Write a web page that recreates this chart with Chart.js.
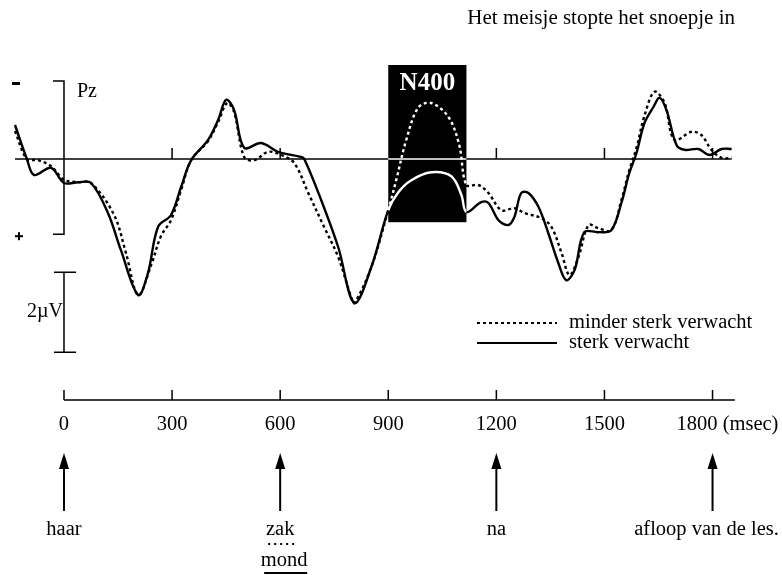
<!DOCTYPE html>
<html>
<head>
<meta charset="utf-8">
<script src="https://cdn.jsdelivr.net/npm/chart.js@4.4.1/dist/chart.umd.min.js"></script>
<style>
  html, body { margin: 0; padding: 0; background: #fff; }
  canvas { display: block; }
</style>
</head>
<body>
<canvas id="erp" width="782" height="575"></canvas>
<script>
// Tijd (ms) en amplitude (µV, negatief = omhoog)
const tijdSterk = [-136, -103, -83, -36, 0, 39, 75, 122, 158, 206, 233, 261, 297, 325, 353, 400, 428, 450, 472, 500, 547, 594, 658, 667, 714, 761, 806, 853, 900, 928, 964, 1019, 1075, 1103, 1117, 1158, 1178, 1206, 1233, 1250, 1269, 1289, 1317, 1344, 1372, 1394, 1417, 1444, 1483, 1519, 1547, 1569, 1589, 1611, 1636, 1653, 1672, 1700, 1722, 1761, 1792, 1825, 1853];
const sterkVerwacht = [-0.85, 0, 0.4, 0.22, 0.6, 0.58, 0.6, 1.35, 2.28, 3.4, 2.85, 1.7, 1.4, 0.7, 0.03, -0.48, -0.98, -1.48, -1.23, -0.28, -0.4, -0.18, -0.05, 0, 1.03, 2.2, 3.6, 2.7, 1.28, 0.83, 0.53, 0.33, 0.43, 0.9, 1.33, 1.08, 1.1, 1.53, 1.65, 1.45, 0.85, 0.85, 1.2, 1.85, 2.6, 3.03, 2.78, 1.83, 1.83, 1.78, 1.1, 0.35, -0.15, -0.9, -1.3, -1.53, -1.23, -0.35, -0.23, -0.25, -0.1, -0.25, -0.25];

const tijdMinder = [-136, -103, -72, -36, 0, 39, 75, 139, 172, 206, 242, 269, 297, 325, 353, 400, 428, 453, 472, 500, 528, 567, 603, 639, 678, 722, 761, 797, 806, 853, 900, 922, 950, 983, 1019, 1067, 1097, 1117, 1150, 1178, 1214, 1250, 1278, 1325, 1353, 1381, 1403, 1428, 1456, 1483, 1519, 1547, 1569, 1589, 1611, 1639, 1667, 1694, 1742, 1769, 1797, 1825, 1853];
const minderVerwacht = [-0.7, 0, 0.03, 0.18, 0.52, 0.58, 0.6, 1.4, 2.35, 3.4, 2.65, 1.93, 1.53, 0.78, 0.03, -0.45, -0.93, -1.4, -1.18, -0.05, 0.03, -0.18, -0.1, 0.1, 0.85, 1.7, 2.45, 3.45, 3.6, 2.7, 1.28, 0.53, -0.48, -1.28, -1.4, -1.05, -0.35, 0.65, 0.65, 0.85, 1.28, 1.23, 1.35, 1.48, 1.7, 2.35, 2.9, 2.45, 1.65, 1.73, 1.78, 1.03, 0.28, -0.28, -1.08, -1.68, -1.4, -0.48, -0.68, -0.6, -0.23, -0.03, -0.03];

const nulLijn = [-136, 900, 1117, 1853];
const n400Venster = [900, 1117];
const n400Hoogte = [-2.35, 1.58];
const klemBereik = [-1.95, 1.88];
const schaalBalk = [2.83, 4.83];
const lijnStreepjes = [300, 600, 1200, 1500, 1800];

const asTijden = [0, 300, 600, 900, 1200, 1500, 1800];
const asLabels = ['0', '300', '600', '900', '1200', '1500', '1800 (msec)'];
const woordTijden = [0, 600, 1200, 1800];
const woorden = ['haar', 'zak', 'na', 'afloop van de les.'];

const serif = '"Liberation Serif", "DejaVu Serif", serif';

function punten(tijden, waarden) {
  return tijden.map((t, i) => ({ x: t, y: waarden[i] }));
}

function inVenster(seg) {
  return seg.p0.parsed.x >= n400Venster[0] && seg.p1.parsed.x <= n400Venster[1];
}

const versiering = {
  id: 'versiering',
  beforeDatasetsDraw(chart) {
    const { ctx, scales: { x, y } } = chart;
    ctx.save();
    // zwart N400-vak
    const bx0 = x.getPixelForValue(n400Venster[0]);
    const bx1 = x.getPixelForValue(n400Venster[1]);
    const by0 = y.getPixelForValue(n400Hoogte[0]);
    const by1 = y.getPixelForValue(n400Hoogte[1]);
    ctx.fillStyle = '#000';
    ctx.fillRect(bx0, by0, bx1 - bx0, by1 - by0);
    ctx.fillStyle = '#fff';
    ctx.font = 'bold 25px ' + serif;
    ctx.textAlign = 'center';
    ctx.textBaseline = 'middle';
    ctx.fillText('N400', (bx0 + bx1) / 2, by0 + 19);

    // streepjes op de nullijn
    ctx.strokeStyle = '#000';
    ctx.lineWidth = 1.5;
    const y0 = y.getPixelForValue(0);
    lijnStreepjes.forEach(t => {
      const px = x.getPixelForValue(t);
      ctx.beginPath();
      ctx.moveTo(px, y0);
      ctx.lineTo(px, y0 - 11);
      ctx.stroke();
    });
    ctx.restore();
  },
  afterDatasetsDraw(chart) {
    const { ctx, scales: { x, y } } = chart;
    ctx.save();
    ctx.strokeStyle = '#000';
    ctx.fillStyle = '#000';
    ctx.lineWidth = 1.5;

    // klem met - en +
    const kx = x.getPixelForValue(0);
    const k0 = y.getPixelForValue(klemBereik[0]);
    const k1 = y.getPixelForValue(klemBereik[1]);
    ctx.beginPath();
    ctx.moveTo(kx - 11, k0); ctx.lineTo(kx, k0); ctx.lineTo(kx, k1); ctx.lineTo(kx - 11, k1);
    ctx.stroke();
    ctx.fillRect(12, k0 + 1, 8, 3);
    ctx.fillRect(15, k1 + 1, 8, 2);
    ctx.fillRect(18, k1 - 2, 2, 8);

    ctx.font = '20px ' + serif;
    ctx.textBaseline = 'middle';
    ctx.textAlign = 'left';
    ctx.fillText('Pz', kx + 13, k0 + 11);

    // schaalbalk 2 µV
    const s0 = y.getPixelForValue(schaalBalk[0]);
    const s1 = y.getPixelForValue(schaalBalk[1]);
    ctx.beginPath();
    ctx.moveTo(kx - 10, s0); ctx.lineTo(kx + 12, s0);
    ctx.moveTo(kx, s0); ctx.lineTo(kx, s1);
    ctx.moveTo(kx - 10, s1); ctx.lineTo(kx + 12, s1);
    ctx.stroke();
    ctx.textAlign = 'right';
    ctx.fillText('2\u00B5V', kx - 1, (s0 + s1) / 2);

    // titel
    ctx.textAlign = 'right';
    ctx.font = '21px ' + serif;
    ctx.fillText('Het meisje stopte het snoepje in', 735, 18);

    // legenda
    ctx.font = '20.5px ' + serif;
    ctx.textAlign = 'left';
    ctx.lineWidth = 2;
    ctx.setLineDash([3, 3]);
    ctx.beginPath(); ctx.moveTo(477, 323); ctx.lineTo(557, 323); ctx.stroke();
    ctx.setLineDash([]);
    ctx.beginPath(); ctx.moveTo(477, 343); ctx.lineTo(557, 343); ctx.stroke();
    ctx.fillText('minder sterk verwacht', 569, 323);
    ctx.fillText('sterk verwacht', 569, 343);

    // tijdas
    const asY = 400;
    ctx.lineWidth = 1.5;
    ctx.beginPath();
    ctx.moveTo(x.getPixelForValue(0), asY);
    ctx.lineTo(x.getPixelForValue(1862), asY);
    asTijden.forEach(t => {
      const px = x.getPixelForValue(t);
      ctx.moveTo(px, asY);
      ctx.lineTo(px, asY - 10);
    });
    ctx.stroke();
    ctx.font = '20.5px ' + serif;
    asTijden.forEach((t, i) => {
      const px = x.getPixelForValue(t);
      if (i === asTijden.length - 1) {
        ctx.textAlign = 'left';
        ctx.fillText(asLabels[i], px - 36, 425);
      } else {
        ctx.textAlign = 'center';
        ctx.fillText(asLabels[i], px, 425);
      }
    });

    // pijlen met woorden
    woordTijden.forEach((t, i) => {
      const px = x.getPixelForValue(t);
      ctx.lineWidth = 2;
      ctx.beginPath();
      ctx.moveTo(px, 465); ctx.lineTo(px, 511);
      ctx.stroke();
      ctx.beginPath();
      ctx.moveTo(px, 453); ctx.lineTo(px - 5, 469); ctx.lineTo(px + 5, 469); ctx.closePath();
      ctx.fill();
      ctx.textAlign = 'center';
      const lx = i === woorden.length - 1 ? px - 6 : px;
      ctx.fillText(woorden[i], lx, 530);
    });

    // zak / mond
    const zx = x.getPixelForValue(woordTijden[1]);
    ctx.setLineDash([2, 4]);
    ctx.lineWidth = 2;
    ctx.beginPath(); ctx.moveTo(zx - 12, 544); ctx.lineTo(zx + 16, 544); ctx.stroke();
    ctx.setLineDash([]);
    ctx.fillText('mond', zx + 4, 561);
    ctx.beginPath(); ctx.moveTo(zx - 16, 573); ctx.lineTo(zx + 27, 573); ctx.stroke();

    ctx.restore();
  }
};

new Chart(document.getElementById('erp'), {
  type: 'line',
  data: {
    datasets: [
      {
        label: 'nul',
        data: punten(nulLijn, nulLijn.map(() => 0)),
        borderColor: '#000',
        borderWidth: 1.5,
        pointRadius: 0,
        tension: 0,
        segment: { borderColor: s => inVenster(s) ? '#fff' : '#000' }
      },
      {
        label: 'minder sterk verwacht',
        data: punten(tijdMinder, minderVerwacht),
        borderColor: '#000',
        borderWidth: 2.4,
        borderDash: [3, 3],
        pointRadius: 0,
        tension: 0.35,
        segment: { borderColor: s => inVenster(s) ? '#fff' : '#000' }
      },
      {
        label: 'sterk verwacht',
        data: punten(tijdSterk, sterkVerwacht),
        borderColor: '#000',
        borderWidth: 2.4,
        pointRadius: 0,
        tension: 0.35,
        segment: { borderColor: s => inVenster(s) ? '#fff' : '#000' }
      }
    ]
  },
  options: {
    responsive: false,
    animation: false,
    events: [],
    layout: { padding: 0 },
    plugins: { legend: { display: false }, tooltip: { enabled: false } },
    scales: {
      x: { type: 'linear', display: false, min: -177.6, max: 1992.8 },
      y: { type: 'linear', display: false, reverse: true, min: -3.975, max: 10.4 }
    }
  },
  plugins: [versiering]
});
</script>
</body>
</html>
